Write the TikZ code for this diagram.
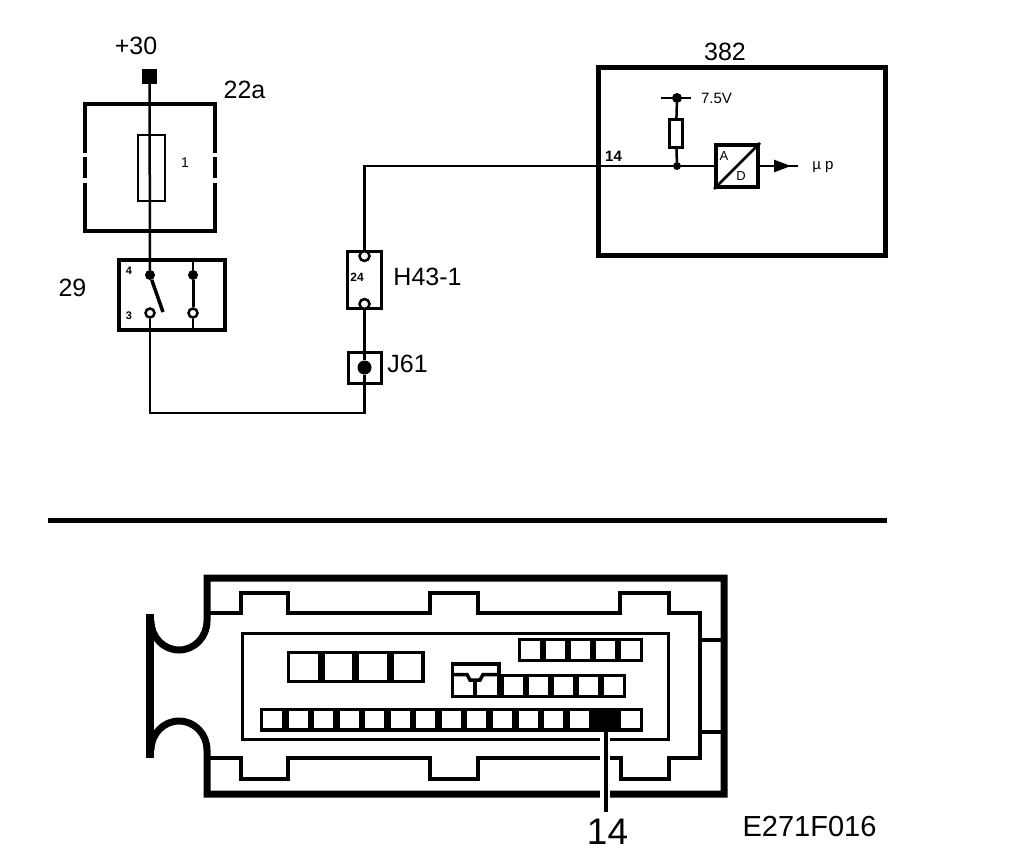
\documentclass[tikz,border=0pt]{standalone}
\usepackage{fontspec}
\setmainfont{Liberation Sans}
\usetikzlibrary{calc,arrows.meta}
\tikzset{
	unit/.style={draw, line width=#1, inner sep=0pt, fill=none},
	wire/.style={line width=2.5pt},
	dot/.style={circle, fill=black, inner sep=0pt, minimum size=#1},
	ring/.style={circle, draw, fill=white, line width=2.5pt, inner sep=0pt, minimum size=#1},
	lab/.style={inner sep=0pt, font=\fontsize{#1}{#1}\selectfont},
	tinylab/.style={inner sep=0pt, font=\bfseries\fontsize{#1}{#1}\selectfont},
	pin/.style={line width=3.5pt},
	wall/.style={line width=7pt},
	thinwall/.style={line width=3.5pt, line join=miter}
}

\begin{document}
\begin{tikzpicture}[x=1pt, y=-1pt]
		\useasboundingbox (0, 0) rectangle (1024, 864);
		%%%%% FUSE AND SWITCH %%%%%
		\node[dot=0pt, rectangle, minimum size=15pt] (t30) at (149.5, 76.5) {};
		\node[unit=4pt, minimum width=130pt, minimum height=127pt] (fusebox) at (150, 167.5) {};
		\node[unit=2pt, minimum width=27pt, minimum height=66pt] (fuse) at (151, 167.5) {};
		\fill[white] (81, 153) rectangle (87, 157);
		\fill[white] (81, 178) rectangle (87, 183);
		\fill[white] (213, 153) rectangle (219, 157);
		\fill[white] (213, 178) rectangle (219, 183);
		
		\node[unit=4pt, minimum width=106pt, minimum height=70pt] (switch) at (172, 295) {};
		\node[dot=10pt] (c4) at (150, 275) {};
		\node[dot=10pt] (c4b) at (193, 275) {};
		\node[ring=9pt] (c3) at (150, 313) {};
		\node[ring=9pt] (c3b) at (193, 313) {};
		\coordinate (arm) at (163, 312);
		\coordinate (c4btop) at (193, 260);
		\coordinate (c3bbot) at (193, 330);
		\draw[wire] (t30) -- (c4);
		\draw[line width=3.5pt] (c4) -- (arm);
		\draw[line width=3pt] (c4b) -- (c3b);
		\draw[wire] (c4btop) -- (c4b);
		\draw[wire] (c3b) -- (c3bbot);
		
		%%%%% CONNECTORS %%%%%
		\node[unit=2.5pt, minimum width=34pt, minimum height=57pt] (h43) at (364.5, 280) {};
		\node[ring=10pt] (h43a) at (364.5, 256) {};
		\node[ring=10pt] (h43b) at (364.5, 304) {};
		\node[unit=3pt, minimum width=33pt, minimum height=31pt] (j61) at (364.5, 368) {};
		\node[dot=14pt] (j61c) at (364.5, 367.5) {};
		\draw[wire] (c3) |- (364.5, 413) -- (j61c);
		\draw[wire] (j61c) -- (h43b);
		
		%%%%% ECU %%%%%
		\node[unit=5pt, minimum width=287pt, minimum height=187pt] (ecu) at (741.5, 161.5) {};
		\node[unit=4pt, minimum width=42pt, minimum height=42pt] (adc) at (737, 166) {};
		\node[dot=8pt] (jn) at (677, 166) {};
		\node[dot=10pt] (vref) at (677, 98) {};
		\node[unit=3pt, minimum width=13pt, minimum height=28pt] (res) at (676, 133.5) {};
		\coordinate (vl) at (661, 98);
		\coordinate (vr) at (691, 98);
		\coordinate (out) at (798, 166);
		\draw[wire] (h43a) |- (jn);
		\draw[wire] (jn) -- (adc);
		\draw[wire] (jn) -- (res);
		\draw[wire] (res) -- (vref);
		\draw[line width=2pt] (vl) -- (vr);
		\draw[line width=2.5pt] (adc.south west) -- (adc.north east);
		\draw[wire, -{Triangle[length=17pt, width=12pt]}] (adc) ++(23, 0) -- (791, 166);
		\draw[wire] (789, 166) -- (out);
		
		%%%%% SEPARATOR %%%%%
		\draw[line width=5pt] (48, 520.5) -- (887, 520.5);
		
		%%%%% PLUG %%%%%
		\draw[line width=8pt] (150, 614) -- (150, 758);
		\draw[wall] (151, 750) arc (-180:0:28 and 29) -- (207, 794) -- (724, 794) -- (724, 578) -- (207, 578) -- (207, 621) arc (0:180:28 and 29);
		\draw[thinwall] (207, 613) -- (241, 613) -- (241, 593) -- (288, 593) -- (288, 613) -- (430, 613) -- (430, 593) -- (478, 593) -- (478, 613) -- (620, 613) -- (620, 593) -- (669, 593) -- (669, 613) -- (700, 613) -- (700, 758) -- (669, 758) -- (669, 779) -- (621, 779) -- (621, 758) -- (478, 758) -- (478, 779) -- (430, 779) -- (430, 758) -- (288, 758) -- (288, 779) -- (241, 779) -- (241, 758) -- (207, 758);
		\draw[thinwall] (700, 640) -- (724, 640);
		\draw[thinwall] (700, 732) -- (724, 732);
		\draw[line width=3pt] (242, 633) rectangle (668, 739);
		
		\foreach \i in {0,...,3}
			\draw[pin] ({288.5+\i*34.5}, 652.5) rectangle +(31, 29);
		\foreach \i in {0,...,4}
			\draw[pin] ({519.5+\i*25}, 639.5) rectangle +(22, 21);
		\foreach \i in {0,...,4}
			\draw[pin] ({502.5+\i*25}, 675.5) rectangle +(22, 21);
		\foreach \i in {0,...,14}
			\draw[pin] ({261.5+\i*25.53}, 709.5) rectangle +(22.5, 20.5);
		\fill[black] (593, 708) rectangle (617, 731);
		
		\draw[pin] (452.5, 664) rectangle (499, 696.5);
		\draw[pin] (452.5, 674.5) -- (467, 674.5) -- (470, 680) -- (480, 680) -- (483, 674.5) -- (499, 674.5);
		\draw[pin] (475, 680) -- (475, 696.5);
		
		\draw[white, line width=10pt] (605, 737) -- (605, 800);
		\draw[line width=4pt] (606, 730) -- (606, 812);
		
		%%%%% LABELS %%%%%
		\node[lab=25] (l30) at (136, 46) {+30};
		\node[lab=25] (l22a) at (244.5, 90) {22a};
		\node[lab=14] (l1) at (185, 163) {1};
		\node[lab=25] (l29) at (72.5, 288) {29};
		\node[tinylab=11] (l4) at (129, 271) {4};
		\node[tinylab=11] (l3) at (129, 316) {3};
		\node[tinylab=12] (l24) at (357, 277) {24};
		\node[lab=25] (lh43) at (427.5, 277) {H43-1};
		\node[lab=25] (lj61) at (407.5, 364) {J61};
		\node[lab=25] (l382) at (725, 52) {382};
		\node[tinylab=15] (l14) at (613.5, 156) {14};
		\node[lab=15] (lv) at (716.5, 98.5) {7.5V};
		\node[lab=13] (la) at (724, 156) {A};
		\node[lab=13] (ld) at (741, 176) {D};
		\node[lab=15] (lup) at (823, 167) {µ p};
		\node[lab=37] (lpin) at (607.5, 832) {14};
		\node[lab=29] (lcode) at (809.5, 826.5) {E271F016};
		%%%%% END %%%%%
	\end{tikzpicture}
\end{document}
